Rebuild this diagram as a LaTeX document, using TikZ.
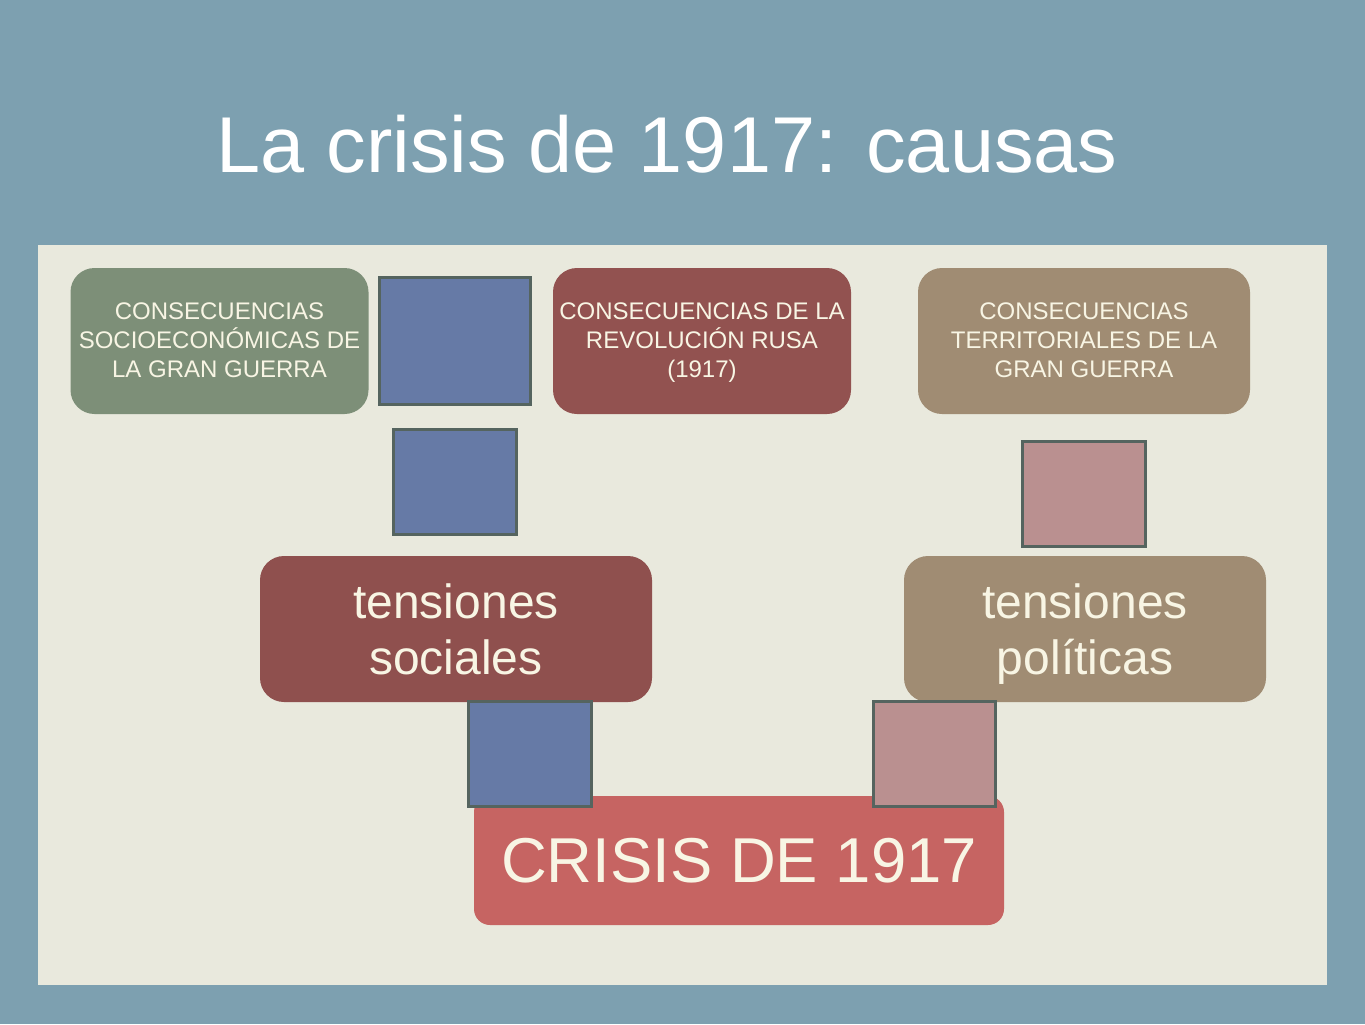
\documentclass[tikz,border=0pt]{standalone}
\usepackage{fontspec}
\setmainfont{Liberation Sans}
\usepackage{tikz}

\definecolor{bgblue}{RGB}{125,160,176}
\definecolor{panel}{RGB}{233,233,221}
\definecolor{cream}{RGB}{248,245,228}
\definecolor{sage}{RGB}{125,143,120}
\definecolor{brick}{RGB}{146,82,80}
\definecolor{khaki}{RGB}{160,140,115}
\definecolor{slateblue}{RGB}{102,122,166}
\definecolor{rosy}{RGB}{186,144,144}
\definecolor{crisisred}{RGB}{198,100,98}
\definecolor{edgegrey}{RGB}{85,100,95}

\begin{document}
\begin{tikzpicture}[
x=0.5pt, y=-0.5pt,
causebox/.style={%
rounded corners=12pt,
text=cream,
align=center,
inner sep=0pt,
minimum height=73pt,
font=\fontsize{12}{14.5}\selectfont
},
tensbox/.style={%
rounded corners=12pt,
text=cream,
align=center,
inner sep=0pt,
minimum height=73pt,
font=\fontsize{24}{28}\selectfont
},
block/.style={%
draw=edgegrey,
line width=1.5pt,
inner sep=0pt
}
]
%% Background
\useasboundingbox (0,0) rectangle (1365,1024);
\fill[bgblue](0,0) rectangle (1365,1024);
\fill[panel](38,245) rectangle (1327,985);
%% Title
\node[anchor=base,text=white,font=\fontsize{39.6}{48}\selectfont]at(667,172)(title){La crisis de 1917: causas};
%% Causes
\node[causebox,fill=sage,minimum width=149pt]at(219.5,341)(socio){\rule{0pt}{12.2pt}CONSECUENCIAS\\SOCIOECONÓMICAS DE\\LA GRAN GUERRA\strut};
\node[causebox,fill=brick,minimum width=149pt]at(702,341)(rusa){\rule{0pt}{12.2pt}CONSECUENCIAS DE LA\\REVOLUCIÓN RUSA\\(1917)\strut};
\node[causebox,fill=khaki,minimum width=166pt]at(1084,341)(terr){\rule{0pt}{12.2pt}CONSECUENCIAS\\TERRITORIALES DE LA\\GRAN GUERRA\strut};
\node[block,fill=slateblue,minimum width=75.5pt,minimum height=63.5pt]at(455,341)(b1){};
%%
\node[block,fill=slateblue,minimum width=61.5pt,minimum height=52.5pt]at(455,482)(b2){};
\node[block,fill=rosy,minimum width=61.5pt,minimum height=52.5pt]at(1084,494)(p1){};
%% Tensions
\node[tensbox,fill=brick!98!black,minimum width=196pt]at(456,629)(soc){\rule{0pt}{25.6pt}tensiones\\sociales\strut};
\node[tensbox,fill=khaki,minimum width=181pt]at(1085,629)(pol){\rule{0pt}{25.6pt}tensiones\\políticas\strut};
%% Crisis
\node[rounded corners=8pt,fill=crisisred,text=cream,inner sep=0pt,minimum width=265pt,minimum height=64.5pt,font=\fontsize{31.7}{36}\selectfont]at(739,860.5)(crisis){CRISIS DE 1917};
\node[block,fill=slateblue,minimum width=61.5pt,minimum height=52.5pt]at(530,754)(b3){};
\node[block,fill=rosy,minimum width=61pt,minimum height=52.5pt]at(934.5,753.5)(p2){};
\end{tikzpicture}
\end{document}
